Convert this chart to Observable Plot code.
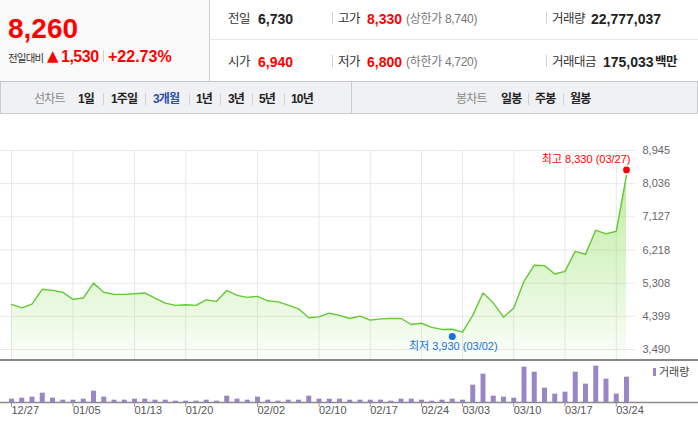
<!DOCTYPE html>
<html><head><meta charset="utf-8">
<script src="https://cdn.jsdelivr.net/npm/d3@7"></script>
<script src="https://cdn.jsdelivr.net/npm/@observablehq/plot@0.6"></script>
<style>
body{margin:0;width:698px;height:429px;overflow:hidden;background:#fff;position:relative;font-family:"Liberation Sans","Noto Sans CJK KR",sans-serif;}
.a{position:absolute;white-space:nowrap;line-height:20px;}
.lb{font-size:12.5px;color:#333;letter-spacing:-0.5px;}
.bv{font-size:14px;font-weight:bold;color:#222;}
.rd{color:#f00;}
.sub{font-size:12px;color:#777;letter-spacing:-0.3px;}
.sep{position:absolute;width:1px;height:12px;background:#d2d2d2;}
.tb{font-size:12px;font-weight:bold;color:#222;letter-spacing:-0.8px;}
.tg{font-size:12px;color:#888;letter-spacing:-0.8px;}
</style></head>
<body>
<!-- header -->
<div style="position:absolute;left:0;top:0;width:209px;height:81px;background:#f9f9f9;border-right:1px solid #cfcfcf;"></div>
<div style="position:absolute;left:0;top:81px;width:698px;height:1px;background:#c6c6c6;"></div>
<div style="position:absolute;left:210px;top:39px;width:488px;height:1px;background:#e6e6e6;"></div>

<div class="a rd" style="left:8px;top:15.3px;font-size:28px;line-height:28px;font-weight:bold;">8,260</div>
<div class="a" style="left:8px;top:47.5px;font-size:10.5px;color:#333;letter-spacing:-0.8px;">전일대비</div>
<div class="a rd" style="left:47px;top:46px;font-size:15px;font-family:'DejaVu Sans';">▲</div>
<div class="a rd" style="left:61px;top:46.5px;font-size:16px;font-weight:bold;letter-spacing:-0.5px;">1,530</div>
<div class="sep" style="left:103px;top:50px;"></div>
<div class="a rd" style="left:108px;top:46.5px;font-size:16px;font-weight:bold;">+22.73%</div>

<div class="a lb" style="left:228px;top:8.5px;">전일</div>
<div class="a bv" style="left:258px;top:8.5px;">6,730</div>
<div class="sep" style="left:332px;top:12px;"></div>
<div class="a lb" style="left:338px;top:8.5px;">고가</div>
<div class="a bv rd" style="left:367px;top:8.5px;">8,330</div>
<div class="a sub" style="left:406px;top:8.5px;">(상한가 8,740)</div>
<div class="sep" style="left:546px;top:12px;"></div>
<div class="a lb" style="left:552px;top:8.5px;">거래량</div>
<div class="a bv" style="left:591px;top:8.5px;">22,777,037</div>

<div class="a lb" style="left:228px;top:51.5px;">시가</div>
<div class="a bv rd" style="left:258px;top:51.5px;">6,940</div>
<div class="sep" style="left:332px;top:55px;"></div>
<div class="a lb" style="left:338px;top:51.5px;">저가</div>
<div class="a bv rd" style="left:367px;top:51.5px;">6,800</div>
<div class="a sub" style="left:406px;top:51.5px;">(하한가 4,720)</div>
<div class="sep" style="left:546px;top:55px;"></div>
<div class="a lb" style="left:552px;top:51.5px;">거래대금</div>
<div class="a bv" style="left:603px;top:51.5px;">175,033</div>
<div class="a" style="left:655px;top:51.5px;font-size:12.5px;color:#222;font-weight:bold;letter-spacing:-0.5px;">백만</div>

<!-- tab bar -->
<div style="position:absolute;left:0;top:82px;width:696px;height:31px;background:#f0f1f5;border:1px solid #cdcdcd;border-top:none;"></div>
<div style="position:absolute;left:351px;top:82px;width:1px;height:31px;background:#cdcdcd;"></div>
<div class="a tg" style="left:34px;top:89.3px;">선차트</div>
<div class="a tb" style="left:78px;top:89.3px;">1일</div>
<div class="sep" style="left:103px;top:93px;"></div>
<div class="a tb" style="left:111px;top:89.3px;">1주일</div>
<div class="sep" style="left:145px;top:93px;"></div>
<div class="a tb" style="left:153px;top:89.3px;color:#2b4fa6;">3개월</div>
<div class="sep" style="left:189px;top:93px;"></div>
<div class="a tb" style="left:196px;top:89.3px;">1년</div>
<div class="sep" style="left:220px;top:93px;"></div>
<div class="a tb" style="left:228px;top:89.3px;">3년</div>
<div class="sep" style="left:252px;top:93px;"></div>
<div class="a tb" style="left:259px;top:89.3px;">5년</div>
<div class="sep" style="left:284px;top:93px;"></div>
<div class="a tb" style="left:291px;top:89.3px;">10년</div>
<div class="a tg" style="left:456px;top:89.3px;">봉차트</div>
<div class="a tb" style="left:501px;top:89.3px;">일봉</div>
<div class="sep" style="left:528px;top:93px;"></div>
<div class="a tb" style="left:535px;top:89.3px;">주봉</div>
<div class="sep" style="left:563px;top:93px;"></div>
<div class="a tb" style="left:570px;top:89.3px;">월봉</div>

<div id="price" style="position:absolute;left:0;top:114px;width:698px;height:245px;"></div>
<div style="position:absolute;left:0;top:359px;width:698px;height:2px;background:#888;"></div>
<div id="volume" style="position:absolute;left:0;top:361px;width:698px;height:68px;"></div>
<div style="position:absolute;left:653px;top:368px;width:3px;height:8px;background:#9a86c6;"></div>
<div class="a" style="left:659px;top:362.2px;font-size:11px;color:#444;">거래량</div>

<script>
// ---- data ----
const tickIdx = [0, 6, 12, 17, 24, 30, 35, 40, 44, 49, 54, 59];
const tickLabels = ["12/27","01/05","01/13","01/20","02/02","02/10","02/17","02/24","03/03","03/10","03/17","03/24"];
const priceTicks = [3490, 4399, 5308, 6218, 7127, 8036, 8945];
const closes = [4725,4630,4735,5140,5110,5060,4865,4900,5310,5060,
                5000,5000,5020,5040,4900,4760,4700,4715,4700,4850,
                4810,5110,4975,4920,4945,4825,4795,4705,4605,4360,
                4385,4485,4425,4340,4405,4295,4330,4340,4340,4175,
                4210,4095,4040,4045,3965,4425,5040,4770,4375,4625,
                5360,5800,5790,5560,5630,6180,6100,6760,6660,6730,
                8260];
// volumes in millions of shares
const volumes = [3.0,3.9,4.8,8.4,3.9,2.1,2.1,3.0,10.2,4.8,
                 2.1,2.1,3.0,3.0,2.1,2.1,1.2,1.2,1.2,2.1,
                 1.2,5.7,3.0,2.1,4.8,2.1,1.2,2.1,2.1,5.7,
                 3.0,3.0,3.0,2.1,2.1,2.1,2.1,1.2,3.0,3.0,
                 2.1,1.2,2.1,3.0,2.1,15.6,25.5,5.7,4.8,3.9,
                 31.8,27.3,12.9,7.5,9.3,27.3,16.5,32.7,21.0,7.5,
                 22.78];
const highPt = [{idx: 60, value: 8330, text: "최고 8,330 (03/27)"}];
const lowPt = [{idx: 43, value: 3930, text: "최저 3,930 (03/02)"}];

const fmt = d3.format(",");
const font = "'Liberation Sans','Noto Sans CJK KR',sans-serif";
const xOpt = {domain: [0, closes.length - 1], range: [11, 626]};

const price = Plot.plot({
  width: 698, height: 245,
  marginLeft: 0, marginRight: 63, marginTop: 36, marginBottom: 0,
  x: {...xOpt, axis: null},
  y: {domain: [3490, 8945], range: [235, 36], axis: null},
  style: {overflow: "hidden", background: "transparent", fontFamily: font},
  marks: [
    Plot.ruleY(priceTicks, {stroke: "#e8e8e8"}),
    Plot.ruleX(tickIdx, {stroke: "#e8e8e8"}),
    Plot.areaY(closes, {x: (d, i) => i, y: d => d, fill: "url(#pgrad)"}),
    Plot.line(closes, {x: (d, i) => i, y: d => d, stroke: "#63c936", strokeWidth: 1.4}),
    Plot.text(priceTicks, {y: d => d, text: d => fmt(d), frameAnchor: "right", textAnchor: "start", dx: 7, fill: "#666", fontSize: 11}),
    Plot.dot(highPt, {x: "idx", y: "value", r: 3.4, fill: "#f00", dy: -3}),
    Plot.text(highPt, {x: "idx", y: "value", text: "text", textAnchor: "end", dx: 4, dy: -13.5, fill: "#f00", fontSize: 11}),
    Plot.dot(lowPt, {x: "idx", y: "value", r: 3.5, fill: "#1b6fdc", dy: 3}),
    Plot.text(lowPt, {x: "idx", y: "value", text: "text", textAnchor: "middle", dx: 1, dy: 13, fill: "#1b6fdc", fontSize: 11})
  ]
});
const ns = "http://www.w3.org/2000/svg";
const defs = document.createElementNS(ns, "defs");
defs.innerHTML = '<linearGradient id="pgrad" gradientUnits="userSpaceOnUse" x1="0" y1="60" x2="0" y2="245"><stop offset="0" stop-color="#86dc50" stop-opacity="0.55"/><stop offset="1" stop-color="#86dc50" stop-opacity="0.03"/></linearGradient>';
price.insertBefore(defs, price.firstChild);
document.getElementById("price").appendChild(price);

const vol = Plot.plot({
  width: 698, height: 68,
  marginLeft: 0, marginRight: 0, marginTop: 0, marginBottom: 27,
  x: {...xOpt, ticks: tickIdx, tickFormat: () => "", tickSize: 5, label: null},
  y: {domain: [0, 36], range: [41, 1], axis: null},
  style: {background: "transparent", color: "#999", fontFamily: font},
  marks: [
    Plot.ruleY([0], {stroke: "#8a8a8a", strokeWidth: 1.5}),
    Plot.ruleX(volumes, {x: (d, i) => i, y: d => d, stroke: "#9a86c6", strokeWidth: 5}),
    Plot.text(tickLabels, {x: (d, i) => tickIdx[i], text: d => d, frameAnchor: "bottom", textAnchor: "start", dy: 11, fill: "#555", fontSize: 11})
  ]
});
document.getElementById("volume").appendChild(vol);
</script>
</body></html>
